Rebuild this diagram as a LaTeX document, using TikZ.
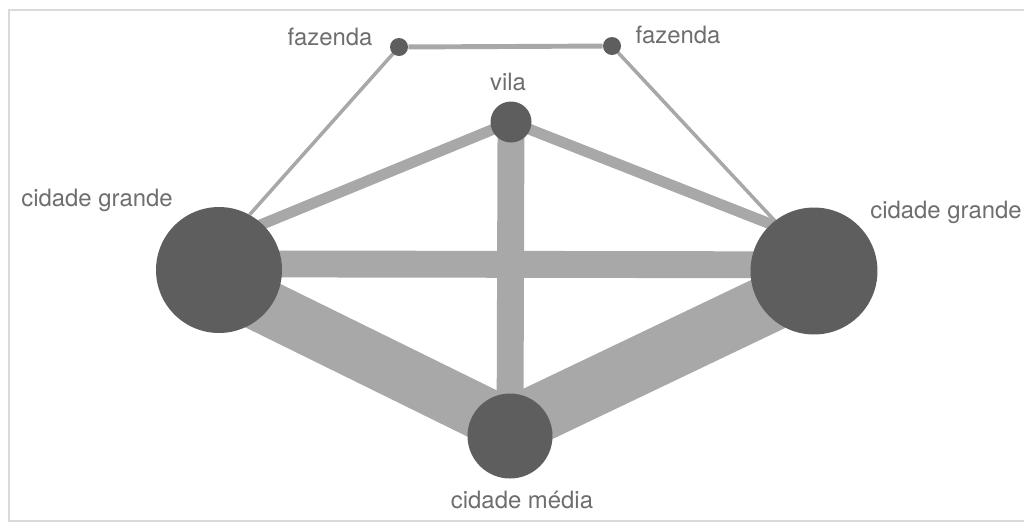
\documentclass[tikz,border=0pt]{standalone}
\usepackage{fontspec}
\setmainfont{TeX Gyre Heros}
\usetikzlibrary{backgrounds}
\definecolor{towngray}{HTML}{5E5E5E}
\definecolor{roadgray}{HTML}{A8A8A8}
\definecolor{labelgray}{HTML}{6E6E6E}
\begin{document}
\begin{tikzpicture}[x=0.02cm,y=-0.02cm,
    town/.style={circle,fill=towngray,inner sep=0pt,minimum size=#1},
    road/.style={draw=roadgray,line width=#1},
    lbl/.style={text=labelgray,font=\fontsize{13.6}{16}\selectfont,inner sep=0pt}]
  \useasboundingbox (0,0) rectangle (1024,525);
  \draw[gray!30,line width=1.2pt] (1024,10) -- (9,10) -- (9,521) -- (1024,521);
  % places
  \node[town=2.52cm] (lg) at (219,270) {};
  \node[town=2.54cm] (rg) at (814,271) {};
  \node[town=0.82cm] (vl) at (511,122) {};
  \node[town=1.70cm] (md) at (510,436) {};
  \node[town=0.36cm] (fl) at (399,47) {};
  \node[town=0.36cm] (fr) at (612,46) {};
  % names
  \node[lbl] (lgname) at (97,200) {cidade grande};
  \node[lbl] (rgname) at (946,212) {cidade grande};
  \node[lbl] (vlname) at (508,82) {vila};
  \node[lbl] (mdname) at (522,500) {cidade média};
  \node[lbl] (flname) at (330,37) {fazenda};
  \node[lbl] (frname) at (678,35) {fazenda};
  % roads
  \begin{scope}[on background layer]
    \draw[road=15.3pt] ([yshift=3.5pt]lg.center) -- ([yshift=3.5pt]rg.center);
    \draw[road=15.3pt] (vl.center) -- (md.center);
    \draw[road=31pt] ([yshift=-8pt]lg.center) -- ([yshift=5pt]md.center);
    \draw[road=33pt] ([yshift=-6.3pt]rg.center) -- ([yshift=5pt]md.center);
    \draw[road=6.2pt] (vl.center) -- ([yshift=16pt]lg.center);
    \draw[road=6.2pt] (vl.center) -- ([yshift=17pt]rg.center);
    \draw[road=2.8pt] (fl) -- (fr);
    \draw[road=2pt] (fl.center) -- (lg.61);
    \draw[road=2pt] (fr.center) -- (rg.128);
  \end{scope}
\end{tikzpicture}
\end{document}
